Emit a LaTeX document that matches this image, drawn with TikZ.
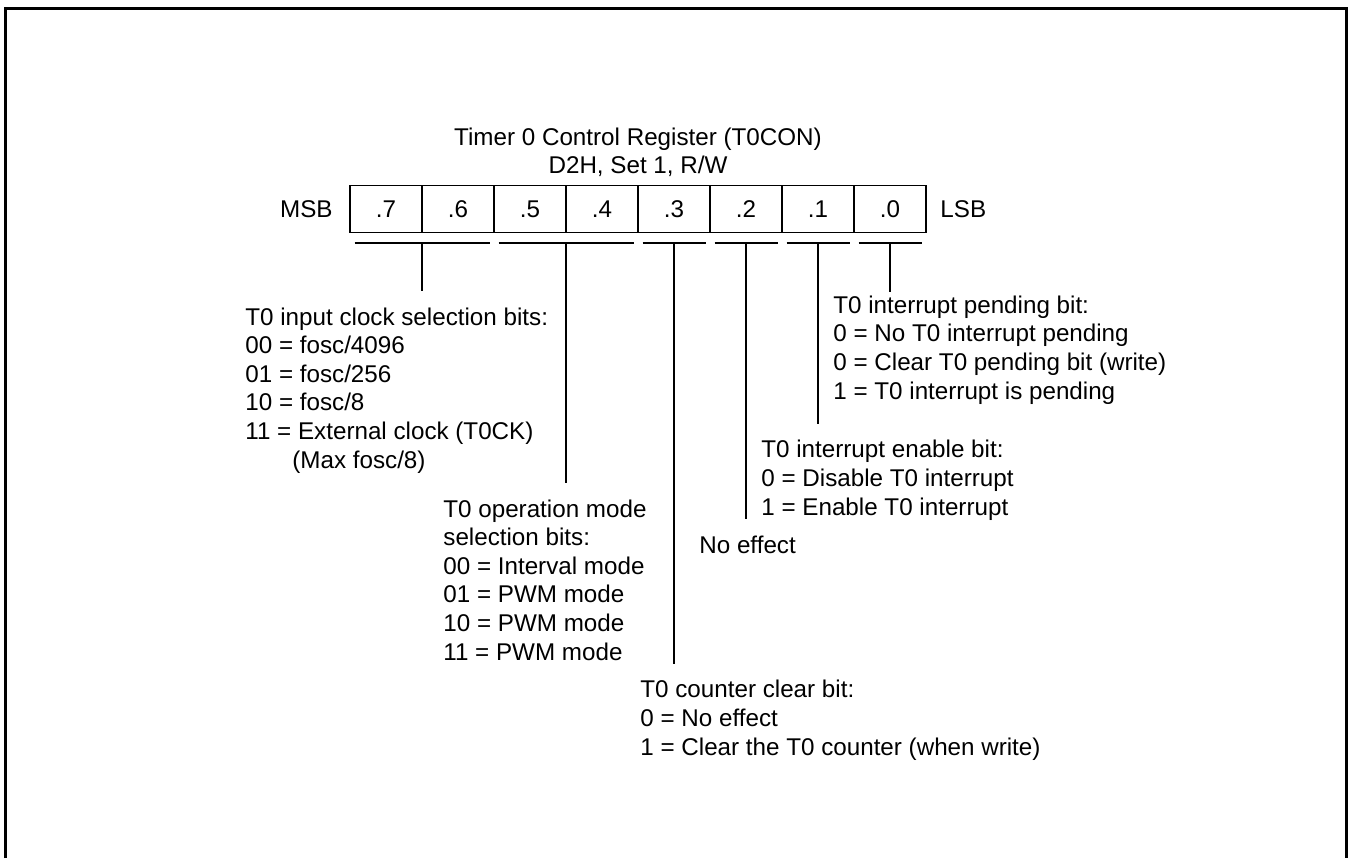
\documentclass[tikz,border=0pt]{standalone}
\usepackage{fontspec}
\setmainfont{Liberation Sans}
\usetikzlibrary{positioning,calc}

\begin{document}
\begin{tikzpicture}[
  x=0.5pt, y=-0.5pt,
  node distance=0pt,
  every node/.style={font=\fontsize{12.1}{14.3}\selectfont, inner sep=0pt},
  bitcell/.style={draw, line width=0.75pt, outer sep=0pt,
    minimum width=36pt, minimum height=23.6pt},
  note/.style={anchor=base west, align=left, inner ysep=8pt},
  tick/.style={line width=0.75pt}
]
\useasboundingbox (0,0) rectangle (1348,858);
% frame, open at the bottom
\draw[line width=1.5pt] (5.7,858) -- (5.7,8.7) -- (1346.5,8.7) -- (1346.5,858);

% register
\node[bitcell] (b7) at (386,209) {.7};
\foreach \i [remember=\i as \prevbit (initially 7)] in {6,5,...,0}
  \node[bitcell, right=of b\prevbit] (b\i) {.\i};
\node[left=8.5pt of b7] (msb) {MSB};
\node[right=7pt of b0] (lsb) {LSB};
\node[above=4pt of b4.north east, align=center] (title)
  {Timer 0 Control Register (T0CON)\\D2H, Set 1, R/W};

% bit descriptions (placed at the baseline of their last line)
\node[note] (clksel) at (245,468) {T0 input clock selection bits:\\
  00 = fosc/4096\\01 = fosc/256\\10 = fosc/8\\11 = External clock (T0CK)\\
  \hspace*{23.5pt}(Max fosc/8)};
\node[note] (modesel) at (443,660) {T0 operation mode\\selection bits:\\
  00 = Interval mode\\01 = PWM mode\\10 = PWM mode\\11 = PWM mode};
\node[note] (clrbit) at (640,755) {T0 counter clear bit:\\0 = No effect\\
  1 = Clear the T0 counter (when write)};
\node[note] (noeff) at (699,553) {No effect};
\node[note] (ienbit) at (761,515) {T0 interrupt enable bit:\\
  0 = Disable T0 interrupt\\1 = Enable T0 interrupt};
\node[note, inner ysep=1.5pt] (pndbit) at (833,399) {T0 interrupt pending bit:\\
  0 = No T0 interrupt pending\\0 = Clear T0 pending bit (write)\\
  1 = T0 interrupt is pending};

% brackets under the bits
\foreach \hi/\lo/\txt in {7/6/clksel, 5/4/modesel, 3/3/clrbit, 2/2/noeff, 1/1/ienbit, 0/0/pndbit} {
  \draw[tick] ([xshift=2.25pt,yshift=-5.3pt]b\hi.south west) -- ([xshift=-2.25pt,yshift=-5.3pt]b\lo.south east);
  \coordinate (m) at ($(b\hi.south west)!0.5!(b\lo.south east)+(0,-5.3pt)$);
  \draw[tick] (m) -- (m |- \txt.north);
}
\end{tikzpicture}
\end{document}
